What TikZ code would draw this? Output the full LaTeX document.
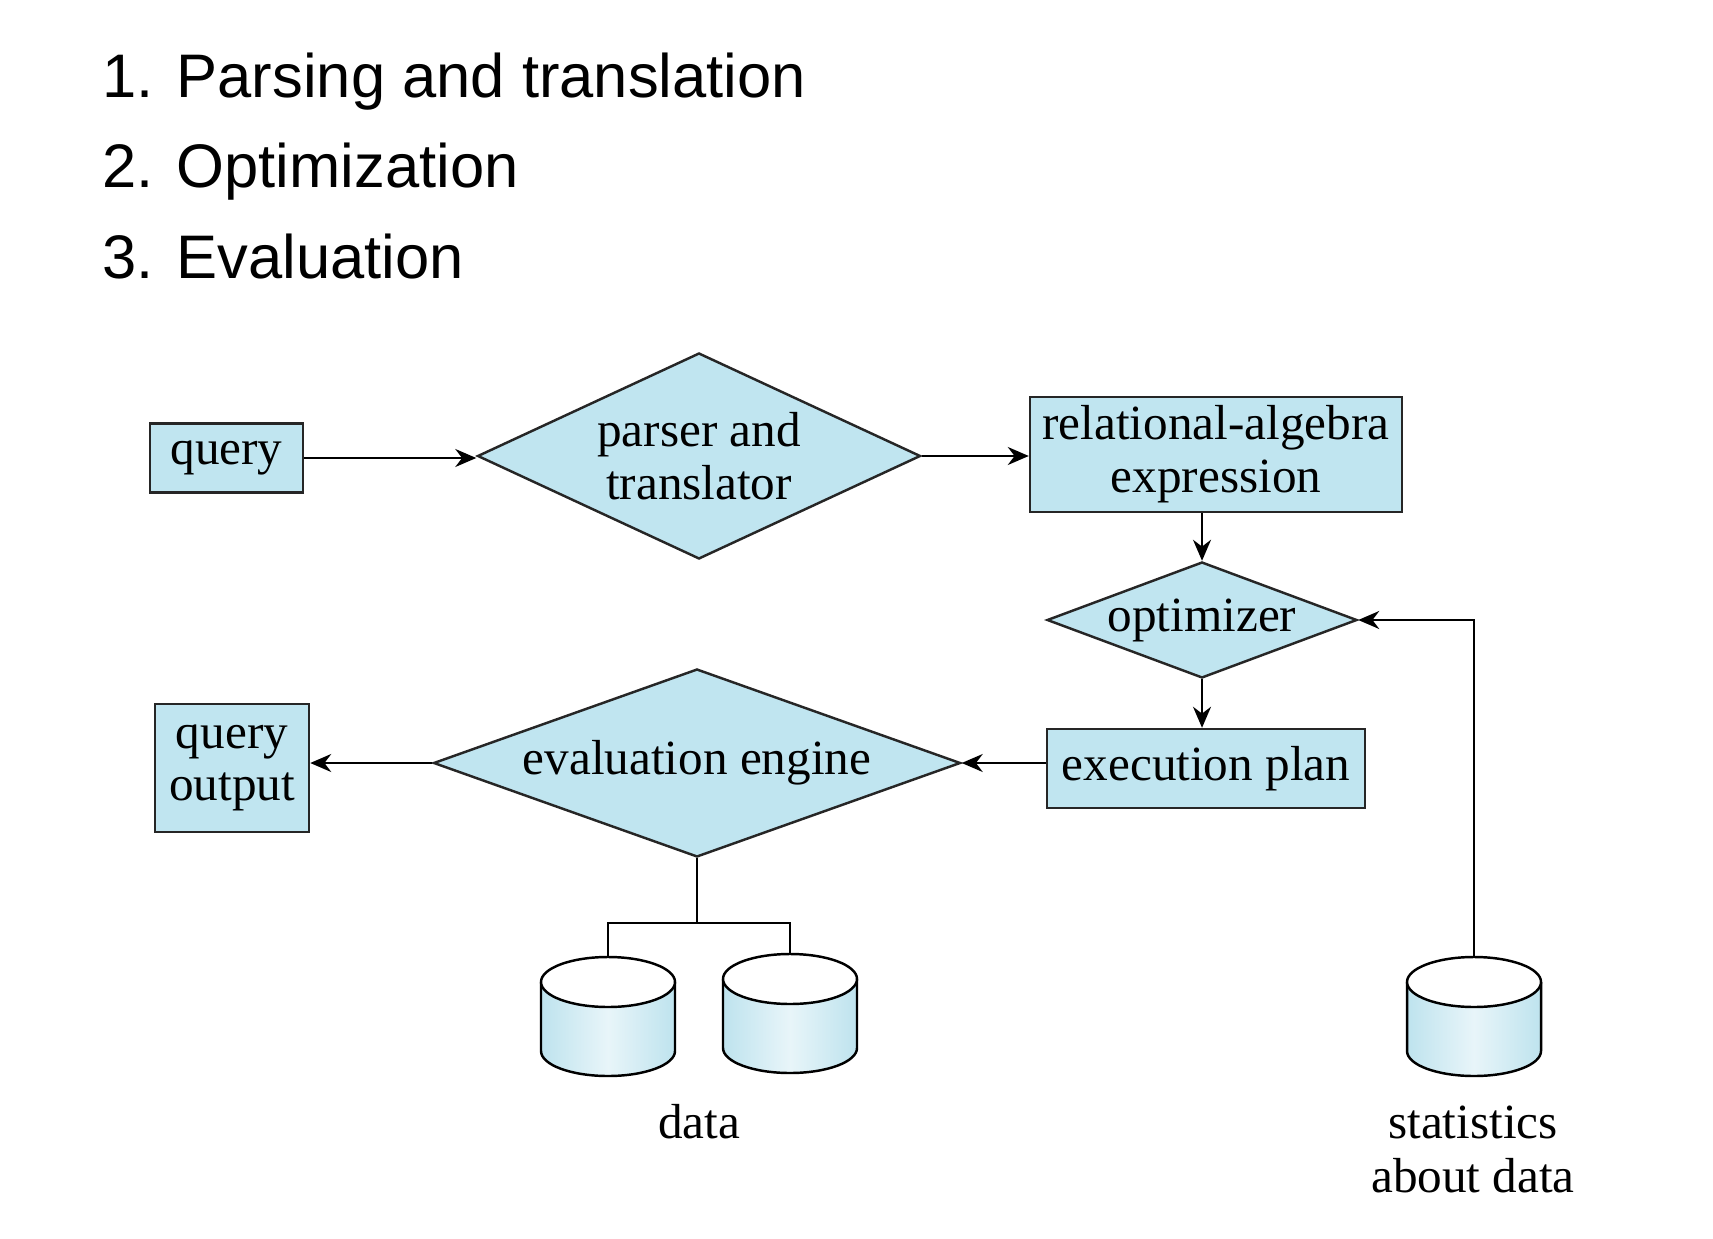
\documentclass[tikz,border=0pt]{standalone}
\usepackage{fontspec}
\setmainfont{Liberation Serif}
\newfontfamily\titlefont{Liberation Sans}
\usetikzlibrary{shapes.geometric}
\usetikzlibrary{arrows.meta}
\definecolor{boxblue}{RGB}{192,229,240}
\definecolor{diskblue}{RGB}{190,227,238}
\definecolor{disklight}{RGB}{232,245,249}
\tikzset{
	box/.style={draw=black!85,line width=0.7pt,fill=boxblue,inner sep=0pt,align=center,font=\fontsize{14}{15}\selectfont},
	decision/.style={diamond,draw=black!85,line width=0.7pt,fill=boxblue,inner sep=0pt,align=center,font=\fontsize{14}{15}\selectfont},
	flow/.style={-{Stealth[length=2.1mm,width=1.8mm]},line width=0.6pt},
	link/.style={line width=0.6pt},
	steptext/.style={anchor=base west,inner sep=0pt,font=\titlefont\fontsize{17.5}{20}\selectfont},
	caption/.style={align=center,font=\fontsize{14}{15.6}\selectfont}
}
\newcommand{\dbdisk}[2]{% #1 = top of the lid, #2 = name
	\begin{scope}[shift={(#1)}]
		\coordinate (#2) at (0,0);
		\shade[left color=diskblue,right color=diskblue,middle color=disklight] (-0.67,-0.25) -- (-0.67,-0.94) arc (180:360:0.67 and 0.25) -- (0.67,-0.25) arc (0:180:0.67 and 0.25) -- cycle;
		\draw[line width=0.7pt] (-0.67,-0.25) -- (-0.67,-0.94) arc (180:360:0.67 and 0.25) -- (0.67,-0.25);
		\draw[line width=0.7pt,fill=white] (0,-0.25) ellipse (0.67 and 0.25);
	\end{scope}}

\begin{document}
\begin{tikzpicture}
	\useasboundingbox (0,0) rectangle (17.13,12.38);
	
	%steps
	\node[steptext] (s1) at (1.02,11.40) {1. Parsing and translation};
	\node[steptext] (s2) at (1.02,10.50) {2. Optimization};
	\node[steptext] (s3) at (1.02,9.59)  {3. Evaluation};
	
	%upper row
	\node[box,minimum width=1.53cm,minimum height=0.69cm] (query) at (2.265,7.80) {query};
	\node[decision,minimum width=4.43cm,minimum height=2.06cm,aspect=2.15] (parser) at (6.99,7.82) {parser and\\translator};
	\node[box,minimum width=3.72cm,minimum height=1.15cm] (relalg) at (12.16,7.835) {relational-algebra\\expression};
	
	%right column
	\node[decision,minimum width=3.10cm,minimum height=1.16cm,aspect=2.67] (opt) at (12.02,6.18) {optimizer};
	\node[box,minimum width=3.18cm,minimum height=0.79cm] (plan) at (12.06,4.695) {execution plan};
	
	%lower row
	\node[decision,minimum width=5.27cm,minimum height=1.88cm,aspect=2.8] (eval) at (6.97,4.75) {evaluation engine};
	\node[box,minimum width=1.54cm,minimum height=1.28cm] (qout) at (2.32,4.70) {query\\output};
	
	%disks
	\dbdisk{6.08,2.81}{diskA}
	\dbdisk{7.90,2.84}{diskB}
	\dbdisk{14.74,2.81}{stats}
	\node[caption] (datalabel) at (6.99,1.16) {data};
	\node[caption] (statslabel) at (14.73,0.885) {statistics\\about data};
	
	%arrows
	\draw[flow] (query.east) -- (query.east -| parser.west);
	\draw[flow] (parser.east) -- (parser.east -| relalg.west);
	\draw[flow] (opt.north |- relalg.south) -- (opt.north);
	\draw[flow] (opt.south) -- (opt.south |- plan.north);
	\draw[flow] (eval.east -| plan.west) -- (eval.east);
	\draw[flow] (eval.west) -- (eval.west -| qout.east);
	\draw[flow] (stats) |- (opt.east);
	
	%data lines
	\coordinate (split) at (6.97,3.15);
	\draw[link] (eval.south) -- (split);
	\draw[link] (diskA) |- (split) -| (diskB);
\end{tikzpicture}
\end{document}
